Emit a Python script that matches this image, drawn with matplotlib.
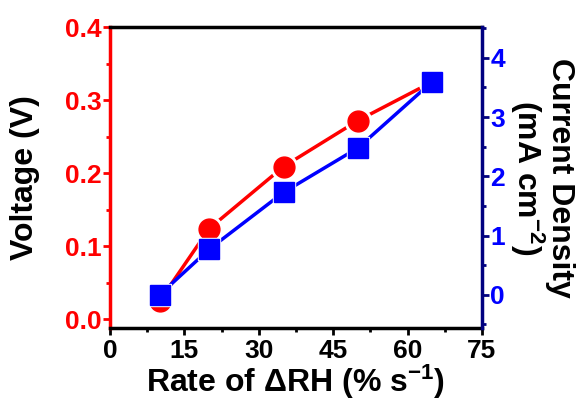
import matplotlib.pyplot as plt
from matplotlib.ticker import MultipleLocator

plt.rcParams['font.family'] = ['Liberation Sans', 'DejaVu Sans']
plt.rcParams['font.weight'] = 'bold'
plt.rcParams['mathtext.fontset'] = 'custom'
plt.rcParams['mathtext.rm'] = 'Liberation Sans:bold'
plt.rcParams['mathtext.bf'] = 'Liberation Sans:bold'
plt.rcParams['mathtext.default'] = 'bf'

rate = [10, 20, 35, 50, 65]
voltage = [0.025, 0.124, 0.209, 0.272, 0.325]
current = [0.0, 0.77, 1.73, 2.48, 3.6]

red = '#ff0000'
blue = '#0000ff'
navy = '#000080'

fig = plt.figure(figsize=(5.82, 4.04), dpi=100)
ax = fig.add_axes([110 / 582, 1 - 328 / 404, 372 / 582, 301 / 404])
ax2 = ax.twinx()

# lines first, then white halos so lines stop short of the markers
ax.plot(rate, voltage, color=red, lw=2.5, zorder=2)
ax.plot(rate, voltage, 'o', color='white', ms=19, zorder=3)
ax.plot(rate, voltage, 'o', color=red, ms=15, zorder=4)

ax2.plot(rate, current, color=blue, lw=2.5, zorder=2)
ax2.plot(rate, current, 's', color='white', ms=16, zorder=3)
ax2.plot(rate, current, 's', color=blue, ms=14, zorder=4)

ax.set_xlim(0, 75)
ax.set_ylim(-0.012, 0.4)
ax2.set_ylim(-0.56, 4.52)

ax.xaxis.set_major_locator(MultipleLocator(15))
ax.xaxis.set_minor_locator(MultipleLocator(7.5))
ax.yaxis.set_major_locator(MultipleLocator(0.1))
ax.yaxis.set_minor_locator(MultipleLocator(0.05))
ax2.yaxis.set_major_locator(MultipleLocator(1))
ax2.yaxis.set_minor_locator(MultipleLocator(0.5))

for sp in ['top', 'bottom']:
    ax.spines[sp].set_linewidth(2.5)
ax.spines['left'].set_color(red)
ax.spines['left'].set_linewidth(2.5)
ax.spines['right'].set_visible(False)
ax2.spines['right'].set_color(navy)
ax2.spines['right'].set_linewidth(2.5)
ax2.spines['left'].set_visible(False)
ax2.spines['top'].set_visible(False)
ax2.spines['bottom'].set_visible(False)

ax.tick_params(axis='x', direction='out', length=5, width=2, labelsize=19, pad=3)
ax.tick_params(axis='x', which='minor', direction='out', length=3, width=2)
ax.tick_params(axis='y', direction='out', length=5, width=2, colors=red,
               labelsize=19, pad=1)
ax.tick_params(axis='y', which='minor', direction='out', length=3, width=2, colors=red)
ax2.tick_params(axis='y', direction='out', length=5, width=2, colors=navy,
                labelcolor=blue, labelsize=19, pad=1)
ax2.tick_params(axis='y', which='minor', direction='out', length=3, width=2, colors=navy)

ax.set_xticklabels([str(int(t)) for t in ax.get_xticks()])
ax.set_xlabel('Rate of \u0394RH (% s$^{-1}$)', fontsize=23, fontweight='bold', labelpad=0)
ax.set_ylabel('Voltage (V)', fontsize=23, fontweight='bold',
              ha='center', va='center', rotation_mode='anchor')
ax.yaxis.set_label_coords(-0.228, 0.5)
ax2.set_ylabel('Current Density\n(mA cm$^{-2}$)', fontsize=23, fontweight='bold',
               rotation=270, linespacing=0.95,
               ha='center', va='center', rotation_mode='anchor')
ax2.yaxis.set_label_coords(1.16, 0.5)

fig.savefig('out.png', dpi=100)
